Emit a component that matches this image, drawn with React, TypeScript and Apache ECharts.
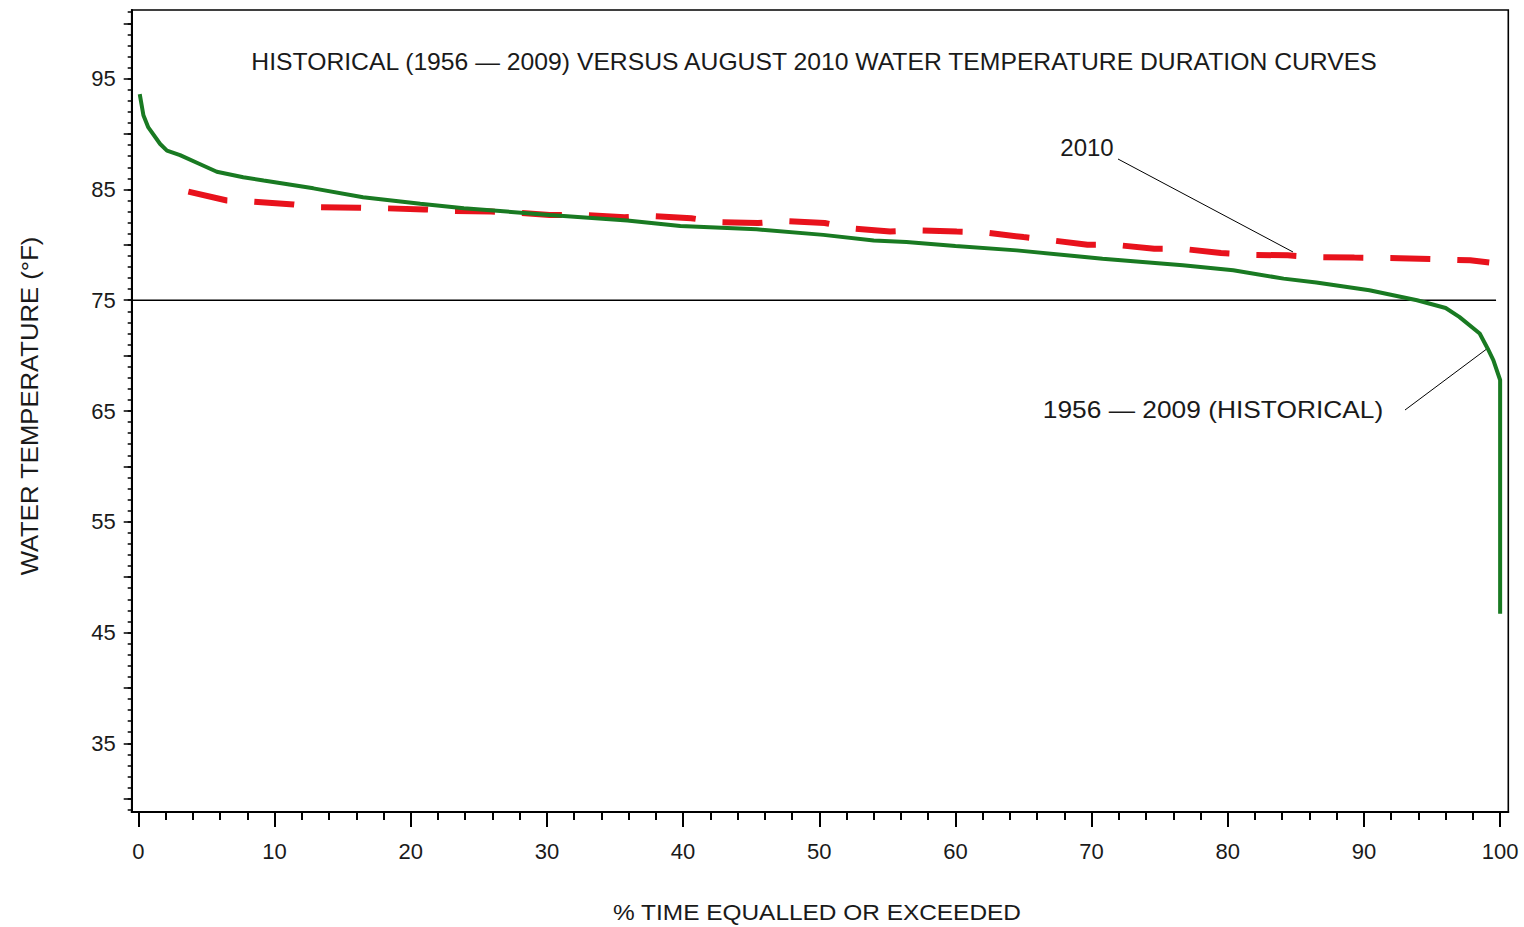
import React, { useEffect, useRef } from "react";
import * as echarts from "echarts";

// Historical (1956-2009) duration curve: % time equalled or exceeded vs water temperature (°F)
const historicalPct = [0.1, 0.37, 0.73, 1.6, 2.1, 3.06, 4.5, 5.76, 7.7, 9.2, 12.85, 16.5, 20.7, 23.9, 30.2, 35.9, 39.8, 45.4, 50.3, 54.0, 56.4, 60.0, 64.5, 70.8, 76.7, 80.4, 84.1, 86.5, 90.4, 93.9, 96.0, 97.0, 98.5, 99.1, 99.5, 100, 100];
const historicalTemp = [93.6, 91.7, 90.6, 89.1, 88.5, 88.1, 87.3, 86.6, 86.1, 85.8, 85.1, 84.3, 83.7, 83.3, 82.7, 82.2, 81.7, 81.4, 80.9, 80.4, 80.25, 79.9, 79.5, 78.75, 78.15, 77.7, 76.95, 76.6, 75.9, 75.0, 74.3, 73.5, 72.0, 70.6, 69.6, 67.8, 46.7];

// August 2010 duration curve
const aug2010Pct = [3.67, 6.5, 8.3, 11.4, 13.2, 16.2, 18.1, 21.0, 23.1, 25.9, 27.9, 30.2, 32.7, 35.7, 37.6, 40.6, 42.5, 45.5, 47.4, 50.4, 52.3, 55.2, 57.2, 60.1, 62.0, 65.0, 66.8, 69.7, 71.7, 74.6, 76.6, 79.5, 81.5, 84.4, 86.4, 89.3, 92.6, 97.8, 99.2];
const aug2010Temp = [84.8, 84.0, 83.9, 83.65, 83.4, 83.35, 83.3, 83.2, 83.05, 83.0, 82.9, 82.7, 82.7, 82.5, 82.6, 82.4, 82.06, 81.97, 82.15, 81.97, 81.5, 81.2, 81.3, 81.2, 81.15, 80.7, 80.45, 80.0, 80.0, 79.65, 79.65, 79.26, 79.1, 79.05, 78.9, 78.85, 78.8, 78.6, 78.4];

// Reference threshold
const thresholdTemp = 75;
const thresholdPctStart = -0.49;
const thresholdPctEnd = 99.7;

// Axis ticks / labels
const xTickLabels = [0, 10, 20, 30, 40, 50, 60, 70, 80, 90, 100];
const xMinorTicks = Array.from({ length: 51 }, (_, i) => i * 2);
const yTickLabels = [35, 45, 55, 65, 75, 85, 95];
const yMidTicks = [30, 35, 40, 45, 50, 55, 60, 65, 70, 75, 80, 85, 90, 95, 100];
const yMinorTicks = Array.from({ length: 73 }, (_, i) => 29 + i);

const X_MIN = -0.49;
const X_MAX = 100.6;
const Y_MIN = 28.8;
const Y_MAX = 101.2;

const FONT = "'Liberation Sans', Arial, sans-serif";
const TXT = "#1a1a1a";

export default function App() {
  const ref = useRef<HTMLDivElement>(null);
  useEffect(() => {
    if (!ref.current) return;
    const chart = echarts.init(ref.current, null, { renderer: "svg" });
    const hist = historicalPct.map((p, i) => [p, historicalTemp[i]]);
    const y2010 = aug2010Pct.map((p, i) => [p, aug2010Temp[i]]);
    const thr = [
      [thresholdPctStart, thresholdTemp],
      [thresholdPctEnd, thresholdTemp],
    ];
    const baseX = {
      type: "value",
      min: X_MIN,
      max: X_MAX,
      position: "bottom",
      splitLine: { show: false },
    };
    const baseY = {
      type: "value",
      min: Y_MIN,
      max: Y_MAX,
      position: "left",
      splitLine: { show: false },
    };
    chart.setOption({
      animation: false,
      backgroundColor: "#ffffff",
      grid: {
        left: 131.7,
        right: 15.7,
        top: 10,
        bottom: 115,
        show: true,
        borderColor: "#000",
        borderWidth: 1.6,
        backgroundColor: "transparent",
      },
      xAxis: [
        {
          ...baseX,
          axisLine: { show: true, onZero: false, lineStyle: { color: "#000", width: 2 } },
          axisTick: { show: true, customValues: xMinorTicks, length: 8, lineStyle: { color: "#000", width: 2 } },
          axisLabel: { show: false },
        },
        {
          ...baseX,
          axisLine: { show: false, onZero: false },
          axisTick: { show: true, customValues: xTickLabels, length: 15, lineStyle: { color: "#000", width: 2 } },
          axisLabel: {
            show: true,
            customValues: xTickLabels,
            margin: 28,
            fontSize: 22,
            fontFamily: FONT,
            color: TXT,
          },
        },
      ],
      yAxis: [
        {
          ...baseY,
          axisLine: { show: true, onZero: false, lineStyle: { color: "#000", width: 2 } },
          axisTick: { show: true, customValues: yMinorTicks, length: 4, lineStyle: { color: "#000", width: 1.5 } },
          axisLabel: { show: false },
        },
        {
          ...baseY,
          axisLine: { show: false, onZero: false },
          axisTick: { show: true, customValues: yMidTicks, length: 8, lineStyle: { color: "#000", width: 1.5 } },
          axisLabel: {
            show: true,
            customValues: yTickLabels,
            margin: 16,
            fontSize: 22,
            fontFamily: FONT,
            color: TXT,
          },
        },
      ],
      series: [
        {
          name: "threshold",
          type: "line",
          data: thr,
          symbol: "none",
          silent: true,
          lineStyle: { color: "#000", width: 1.3 },
          z: 1,
        },
        {
          name: "1956 - 2009 (HISTORICAL)",
          type: "line",
          data: hist,
          symbol: "none",
          lineStyle: { color: "#197a22", width: 4 },
          z: 3,
        },
        {
          name: "2010",
          type: "line",
          data: y2010,
          symbol: "none",
          lineStyle: { color: "#e8121c", width: 6, type: [40, 27], cap: "butt" },
          z: 2,
        },
      ],
      graphic: [
        {
          type: "text",
          x: 814,
          y: 62,
          scaleX: 1.03,
          style: {
            text: "HISTORICAL (1956 — 2009) VERSUS AUGUST 2010 WATER TEMPERATURE DURATION CURVES",
            fontSize: 24,
            fontFamily: FONT,
            fill: TXT,
            textAlign: "center",
            textVerticalAlign: "middle",
          },
        },
        {
          type: "text",
          x: 817,
          y: 912,
          scaleX: 1.11,
          style: {
            text: "% TIME EQUALLED OR EXCEEDED",
            fontSize: 22,
            fontFamily: FONT,
            fill: TXT,
            textAlign: "center",
            textVerticalAlign: "middle",
          },
        },
        {
          type: "text",
          x: 30,
          y: 406,
          rotation: Math.PI / 2,
          scaleX: 1.07,
          style: {
            text: "WATER TEMPERATURE (°F)",
            fontSize: 24,
            fontFamily: FONT,
            fill: TXT,
            textAlign: "center",
            textVerticalAlign: "middle",
          },
        },
        {
          type: "text",
          x: 1087,
          y: 147,
          style: {
            text: "2010",
            fontSize: 24,
            fontFamily: FONT,
            fill: TXT,
            textAlign: "center",
            textVerticalAlign: "middle",
          },
        },
        {
          type: "line",
          shape: { x1: 1118, y1: 159, x2: 1293, y2: 252 },
          style: { stroke: "#000", lineWidth: 1 },
        },
        {
          type: "text",
          x: 1213,
          y: 409,
          scaleX: 1.097,
          style: {
            text: "1956 — 2009 (HISTORICAL)",
            fontSize: 24,
            fontFamily: FONT,
            fill: TXT,
            textAlign: "center",
            textVerticalAlign: "middle",
          },
        },
        {
          type: "line",
          shape: { x1: 1405, y1: 410, x2: 1488, y2: 348 },
          style: { stroke: "#000", lineWidth: 1 },
        },
      ],
    });
    return () => chart.dispose();
  }, []);
  return (
    <div
      ref={ref}
      style={{ position: "fixed", left: 0, top: 0, width: 1524, height: 927, background: "#fff" }}
    />
  );
}
